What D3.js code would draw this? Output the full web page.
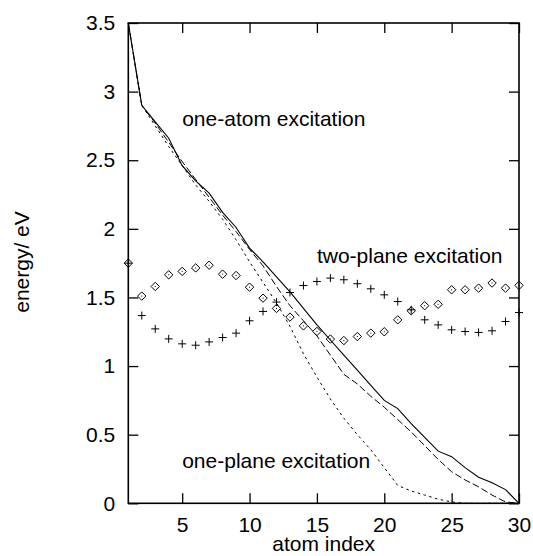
<!DOCTYPE html>
<html>
<head>
<meta charset="utf-8">
<script src="https://cdn.jsdelivr.net/npm/d3@7"></script>
<style>
  html, body { margin: 0; padding: 0; background: #fff; }
  svg text { font-family: "Liberation Sans", Arial, Helvetica, sans-serif; fill: #000; }
</style>
</head>
<body>
<div id="chart"></div>
<script>
// atom index (x) for every series
var atomIndex = [1,2,3,4,5,6,7,8,9,10,11,12,13,14,15,16,17,18,19,20,21,22,23,24,25,26,27,28,29,30];

// three excitation curves (lines)
var solidLine  = [3.5,2.9,2.78,2.66,2.46,2.35,2.26,2.12,2.01,1.86,1.76,1.65,1.54,1.42,1.30,1.19,1.08,0.97,0.86,0.75,0.69,0.58,0.48,0.38,0.34,0.26,0.19,0.15,0.10,0.0];
var dashedLine = [3.5,2.9,2.77,2.63,2.49,2.36,2.23,2.10,1.98,1.85,1.73,1.58,1.44,1.33,1.22,1.08,0.94,0.87,0.78,0.70,0.61,0.52,0.42,0.32,0.23,0.17,0.12,0.06,0.01,0.0];
var dottedLine = [3.5,2.9,2.75,2.6,2.46,2.32,2.2,2.07,1.92,1.76,1.61,1.46,1.29,1.09,0.92,0.76,0.62,0.50,0.39,0.26,0.13,0.09,0.06,0.03,0.01,0.0,0.0,0.0,0.0,0.0];

// point series
var diamonds = [1.75,1.51,1.58,1.665,1.69,1.715,1.735,1.67,1.66,1.575,1.495,1.42,1.357,1.293,1.252,1.197,1.186,1.215,1.24,1.25,1.337,1.403,1.44,1.45,1.556,1.556,1.568,1.605,1.568,1.588];
var pluses   = [1.75,1.368,1.271,1.198,1.162,1.152,1.176,1.208,1.24,1.33,1.398,1.466,1.536,1.587,1.616,1.641,1.629,1.6,1.563,1.519,1.47,1.41,1.337,1.30,1.264,1.252,1.245,1.257,1.325,1.39];

var xTicks = [5,10,15,20,25,30];
var yTicks = [0,0.5,1,1.5,2,2.5,3,3.5];

var labels = [
  {text: "one-atom excitation", x: 5, y: 2.75},
  {text: "two-plane excitation", x: 15, y: 1.75},
  {text: "one-plane excitation", x: 5, y: 0.255}
];

var width = 533, height = 556;
var plotLeft = 128.3, plotRight = 519, plotTop = 23, plotBottom = 503.3;

var svg = d3.select("#chart").append("svg")
    .attr("width", width)
    .attr("height", height);

var x = d3.scaleLinear().domain([1, 30]).range([plotLeft, plotRight]);
var y = d3.scaleLinear().domain([0, 3.5]).range([plotBottom, plotTop]);

var font = 21;
var tick = 10;

function styleTicks(g) {
  g.select(".domain").remove();
  g.selectAll("line").attr("stroke", "#000").attr("stroke-width", 1.3);
  g.selectAll("text").attr("font-size", font).attr("font-family", null).attr("fill", "#000");
}

// ticks on all four sides, pointing inward
svg.append("g").attr("transform", "translate(0," + plotBottom + ")")
  .call(d3.axisBottom(x).tickValues(xTicks).tickSizeInner(-tick).tickSizeOuter(0).tickPadding(14).tickFormat(d3.format("")))
  .call(styleTicks);
svg.append("g").attr("transform", "translate(0," + plotTop + ")")
  .call(d3.axisTop(x).tickValues(xTicks).tickSizeInner(-tick).tickSizeOuter(0).tickFormat(""))
  .call(styleTicks);
svg.append("g").attr("transform", "translate(" + plotLeft + ",0)")
  .call(d3.axisLeft(y).tickValues(yTicks).tickSizeInner(-tick).tickSizeOuter(0).tickPadding(13).tickFormat(d3.format("")))
  .call(styleTicks);
svg.append("g").attr("transform", "translate(" + plotRight + ",0)")
  .call(d3.axisRight(y).tickValues(yTicks).tickSizeInner(-tick).tickSizeOuter(0).tickFormat(""))
  .call(styleTicks);

// frame
svg.append("rect")
  .attr("x", plotLeft).attr("y", plotTop)
  .attr("width", plotRight - plotLeft).attr("height", plotBottom - plotTop)
  .attr("fill", "none").attr("stroke", "#000").attr("stroke-width", 1.6);

var line = d3.line()
  .x(function(d, i) { return x(atomIndex[i]); })
  .y(function(d) { return y(d); });

svg.append("path").datum(solidLine)
  .attr("d", line).attr("fill", "none").attr("stroke", "#000").attr("stroke-width", 1.1);
svg.append("path").datum(dashedLine)
  .attr("d", line).attr("fill", "none").attr("stroke", "#000").attr("stroke-width", 1)
  .attr("stroke-dasharray", "7,3");
svg.append("path").datum(dottedLine)
  .attr("d", line).attr("fill", "none").attr("stroke", "#000").attr("stroke-width", 1)
  .attr("stroke-dasharray", "2.5,3.5");

// diamonds with a centre dot
var dm = svg.append("g").selectAll("g")
  .data(diamonds).enter().append("g")
  .attr("transform", function(d, i) { return "translate(" + x(atomIndex[i]) + "," + y(d) + ")"; });
dm.append("path")
  .attr("d", "M0,-4.2L4.2,0L0,4.2L-4.2,0Z")
  .attr("fill", "none").attr("stroke", "#000").attr("stroke-width", 1);
dm.append("rect")
  .attr("x", -0.5).attr("y", -0.5).attr("width", 1).attr("height", 1).attr("fill", "#000");

// plus markers
svg.append("g").selectAll("path")
  .data(pluses).enter().append("path")
  .attr("transform", function(d, i) { return "translate(" + x(atomIndex[i]) + "," + y(d) + ")"; })
  .attr("d", "M-4,0H4M0,-4V4")
  .attr("fill", "none").attr("stroke", "#000").attr("stroke-width", 1);

// curve labels
svg.append("g").selectAll("text")
  .data(labels).enter().append("text")
  .attr("x", function(d) { return x(d.x); })
  .attr("y", function(d) { return y(d.y); })
  .attr("font-size", font)
  .text(function(d) { return d.text; });

// axis titles
svg.append("text")
  .attr("x", (plotLeft + plotRight) / 2).attr("y", 551)
  .attr("text-anchor", "middle").attr("font-size", font)
  .text("atom index");
svg.append("text")
  .attr("transform", "translate(29,262) rotate(-90)")
  .attr("text-anchor", "middle").attr("font-size", font)
  .text("energy/ eV");
</script>
</body>
</html>
